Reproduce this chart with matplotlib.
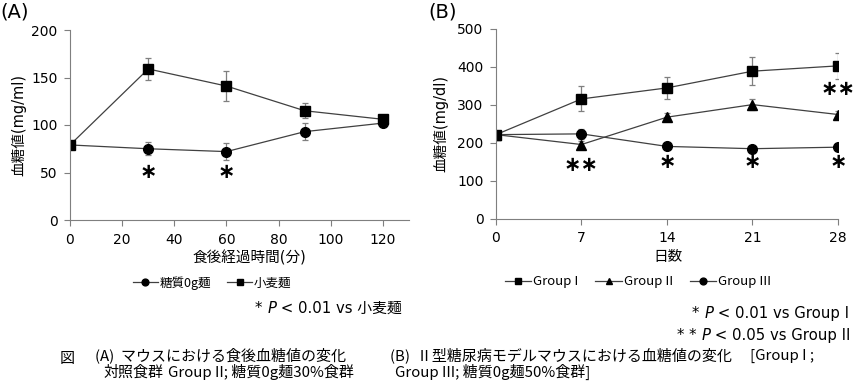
import numpy as np
import matplotlib
matplotlib.use("Agg")
import matplotlib.pyplot as plt

plt.rcParams['font.family'] = ['DejaVu Sans', 'Noto Sans CJK JP']
JP = ['Noto Sans CJK JP', 'DejaVu Sans']

# (A) post-meal blood glucose
time_min = [0, 30, 60, 90, 120]
zero_noodle = [79, 75, 72, 93, 102]
zero_noodle_err = [0, 7, 9, 9, 2]
wheat_noodle = [79, 159, 141, 115, 106]
wheat_noodle_err = [0, 12, 16, 8, 3]
sig_a_x = [30, 60]
sig_a_y = [51, 51]

# (B) type II diabetes model mice
days = [0, 7, 14, 21, 28]
group1 = [222, 316, 345, 389, 403]
group1_err = [0, 33, 29, 37, 35]
group2 = [222, 196, 268, 301, 275]
group2_err = [0, 8, 10, 15, 10]
group3 = [222, 224, 191, 185, 189]
group3_err = [0, 13, 4, 4, 4]
sig_b = [(7, 142, '∗∗'), (14, 149, '∗'), (21, 149, '∗'), (28, 149, '∗'), (28, 343, '∗∗')]

W, H = 858, 386
fig = plt.figure(figsize=(W / 100, H / 100), dpi=100)

def ax_rect(l, t, r, b):
    return [l / W, 1 - b / H, (r - l) / W, (b - t) / H]

ax_a = fig.add_axes(ax_rect(70, 30, 409, 220))
ax_b = fig.add_axes(ax_rect(496, 29, 838, 219))

line_kw = dict(color='#404040', lw=0.9, markerfacecolor='black', markeredgecolor='black',
               ecolor='#7f7f7f', elinewidth=0.9, capsize=2.5, capthick=0.9)

a1 = ax_a.errorbar(time_min, zero_noodle, yerr=zero_noodle_err, marker='o', ms=7, **line_kw)
a2 = ax_a.errorbar(time_min, wheat_noodle, yerr=wheat_noodle_err, marker='s', ms=7, **line_kw)
for x, y in zip(sig_a_x, sig_a_y):
    ax_a.text(x, y, '∗', ha='center', va='center', fontsize=15, fontweight='bold')

b1 = ax_b.errorbar(days, group1, yerr=group1_err, marker='s', ms=7, **line_kw)
b2 = ax_b.errorbar(days, group2, yerr=group2_err, marker='^', ms=7, **line_kw)
b3 = ax_b.errorbar(days, group3, yerr=group3_err, marker='o', ms=7, **line_kw)
for x, y, s in sig_b:
    ax_b.text(x, y, s, ha='center', va='center', fontsize=15, fontweight='bold')

for ax in (ax_a, ax_b):
    for side in ('top', 'right'):
        ax.spines[side].set_visible(False)
    for side in ('left', 'bottom'):
        ax.spines[side].set_color('#7f7f7f')
    ax.tick_params(direction='out', length=4, color='#7f7f7f', labelsize=10, pad=5)

ax_a.set_xlim(0, 130)
ax_a.set_ylim(0, 200)
ax_a.set_xticks([0, 20, 40, 60, 80, 100, 120])
ax_a.set_yticks([0, 50, 100, 150, 200])
ax_a.set_xlabel('食後経過時間(分)', fontsize=10.5)
ax_a.set_ylabel('血糖値(mg/ml)', fontsize=10.5)
ax_a.xaxis.set_label_coords(0.53, -0.16)
ax_a.yaxis.set_label_coords(-0.13, 0.5)

ax_b.set_xlim(0, 28)
ax_b.set_ylim(0, 500)
ax_b.set_xticks(days)
ax_b.set_yticks([0, 100, 200, 300, 400, 500])
ax_b.set_xlabel('日数', fontsize=10.5)
ax_b.set_ylabel('血糖値(mg/dl)', fontsize=10.5)
ax_b.xaxis.set_label_coords(0.503, -0.16)
ax_b.yaxis.set_label_coords(-0.14, 0.5)

leg_kw = dict(frameon=False, handlelength=2.0, handletextpad=0.15, markerscale=0.7, loc='center')
fig.legend([a1[0], a2[0]], ['糖質0g麺', '小麦麺'], ncol=2,
           bbox_to_anchor=(212 / W, 1 - 283 / H), columnspacing=1.3,
           prop={'family': JP, 'size': 9}, **leg_kw)
fig.legend([b1[0], b2[0], b3[0]], ['Group I', 'Group II', 'Group III'], ncol=3,
           bbox_to_anchor=(638 / W, 1 - 282 / H), columnspacing=1.3,
           prop={'family': JP, 'size': 9.5}, **leg_kw)

fig.text(0 / W, 1 - 12 / H, '(A)', fontsize=14, va='center', ha='left')
fig.text(428 / W, 1 - 12 / H, '(B)', fontsize=14, va='center', ha='left')


def note(x, y, star, rest, size=10.7):
    # "* P < ..." with an italic P, three pieces on one baseline
    t1 = fig.text(x / W, 1 - y / H, star + ' ', fontsize=size, ha='left', va='bottom')
    t2 = fig.text(0, 0, 'P', fontsize=size, style='italic', ha='left', va='bottom')
    t3 = fig.text(0, 0, ' ' + rest, fontsize=size, ha='left', va='bottom')
    return [t1, t2, t3]


notes = [note(255, 316, '*', '< 0.01 vs 小麦麺'),
         note(692, 321, '*', '< 0.01 vs Group I'),
         note(677, 343, '* *', '< 0.05 vs Group II')]

fig.canvas.draw()
r = fig.canvas.get_renderer()
for t1, t2, t3 in notes:
    x0, y0 = t1.get_position()
    bb1 = t1.get_window_extent(r)
    t2.set_position((bb1.x1 / fig.bbox.width, y0))
    bb2 = t2.get_window_extent(r)
    t3.set_position((bb2.x1 / fig.bbox.width, y0))

cap_kw = dict(fontsize=10.8, ha='left', va='baseline', family=JP)
y1, y2 = 1 - 360 / H, 1 - 377 / H
fig.text(60 / W, 1 - 363 / H, '図', **cap_kw)
fig.text(95 / W, y1, '(A)  マウスにおける食後血糖値の変化', **cap_kw)
fig.text(390 / W, y1, '(B)  Ⅱ型糖尿病モデルマウスにおける血糖値の変化', **cap_kw)
fig.text(750 / W, y1, '[Group I ;', **cap_kw)
fig.text(103 / W, y2, '対照食群', **cap_kw)
fig.text(168 / W, y2, 'Group II; 糖質0g麺30%食群', **cap_kw)
fig.text(395 / W, y2, 'Group III; 糖質0g麺50%食群]', **cap_kw)

fig.savefig('out.png', dpi=100)
